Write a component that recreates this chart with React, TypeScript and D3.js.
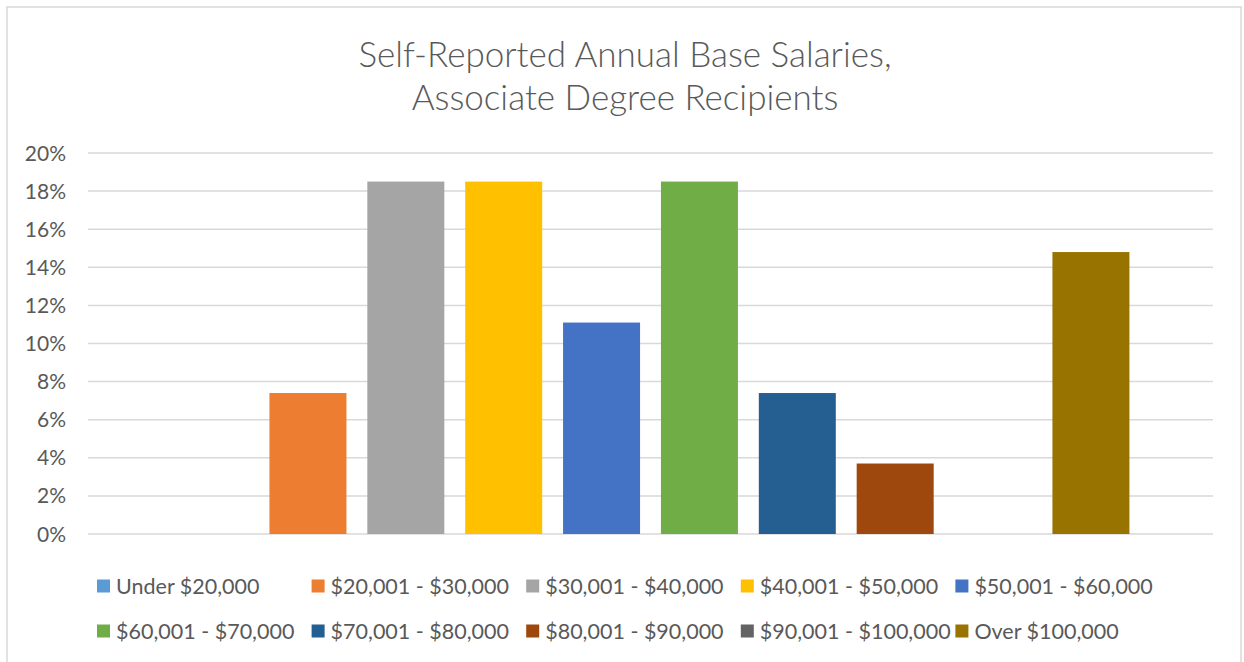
import React from "react";
import * as d3 from "d3";

const titleLines = ["Self-Reported Annual Base Salaries,", "Associate Degree Recipients"];
const categories = [
  "Under $20,000",
  "$20,001 - $30,000",
  "$30,001 - $40,000",
  "$40,001 - $50,000",
  "$50,001 - $60,000",
  "$60,001 - $70,000",
  "$70,001 - $80,000",
  "$80,001 - $90,000",
  "$90,001 - $100,000",
  "Over $100,000",
];
const shares = [0, 0.074, 0.185, 0.185, 0.111, 0.185, 0.074, 0.037, 0, 0.148];
const colors = [
  "#5B9BD5",
  "#ED7D31",
  "#A5A5A5",
  "#FFC000",
  "#4472C4",
  "#70AD47",
  "#255E91",
  "#9E480E",
  "#636363",
  "#997300",
];
const yTicks = [0, 0.02, 0.04, 0.06, 0.08, 0.1, 0.12, 0.14, 0.16, 0.18, 0.2];

const W = 1244;
const H = 662;
const plotLeft = 88;
const plotRight = 1213;
const plotTop = 153;
const plotBottom = 534;
const textColor = "#595959";
const font = "Lato, 'Open Sans', sans-serif";

export default function App() {
  const x = d3
    .scaleBand<string>()
    .domain(categories)
    .range([plotLeft, plotRight])
    .paddingInner(0.2133)
    .paddingOuter(0.854);
  const y = d3.scaleLinear().domain([0, 0.2]).range([plotBottom, plotTop]);
  const fmt = d3.format(".0%");

  const legendX0 = 97;
  const legendStep = 214.6;
  const legendY0 = 586;
  const legendRowGap = 45;

  return (
    <svg
      width={W}
      height={H}
      style={{ position: "absolute", left: 0, top: 0, background: "#fff" }}
      fontFamily={font}
    >
      <rect x={0} y={0} width={W} height={H} fill="#fff" />
      <rect x={7} y={7} width={1234} height={H} fill="#fff" stroke="#d9d9d9" strokeWidth={1.5} />

      {titleLines.map((t, i) => (
        <text
          key={t}
          x={625}
          y={67 + i * 43}
          textAnchor="middle"
          fontSize={35}
          fontWeight={300}
          fill={textColor}
        >
          {t}
        </text>
      ))}

      {yTicks.map((t) => (
        <g key={t}>
          <line
            x1={plotLeft}
            x2={plotRight}
            y1={y(t)}
            y2={y(t)}
            stroke="#d9d9d9"
            strokeWidth={1.5}
          />
          <text
            x={66}
            y={y(t)}
            dy="0.36em"
            textAnchor="end"
            fontSize={21}
            fill={textColor}
          >
            {fmt(t)}
          </text>
        </g>
      ))}

      {categories.map((c, i) => (
        <rect
          key={c}
          x={x(c)}
          y={y(shares[i])}
          width={x.bandwidth()}
          height={y(0) - y(shares[i])}
          fill={colors[i]}
        />
      ))}

      {categories.map((c, i) => {
        const col = i % 5;
        const row = Math.floor(i / 5);
        const lx = legendX0 + col * legendStep;
        const ly = legendY0 + row * legendRowGap;
        return (
          <g key={"lg" + c}>
            <rect x={lx} y={ly - 6.5} width={13} height={13} fill={colors[i]} />
            <text x={lx + 19} y={ly} dy="0.36em" fontSize={21.5} fill={textColor}>
              {c}
            </text>
          </g>
        );
      })}
    </svg>
  );
}
